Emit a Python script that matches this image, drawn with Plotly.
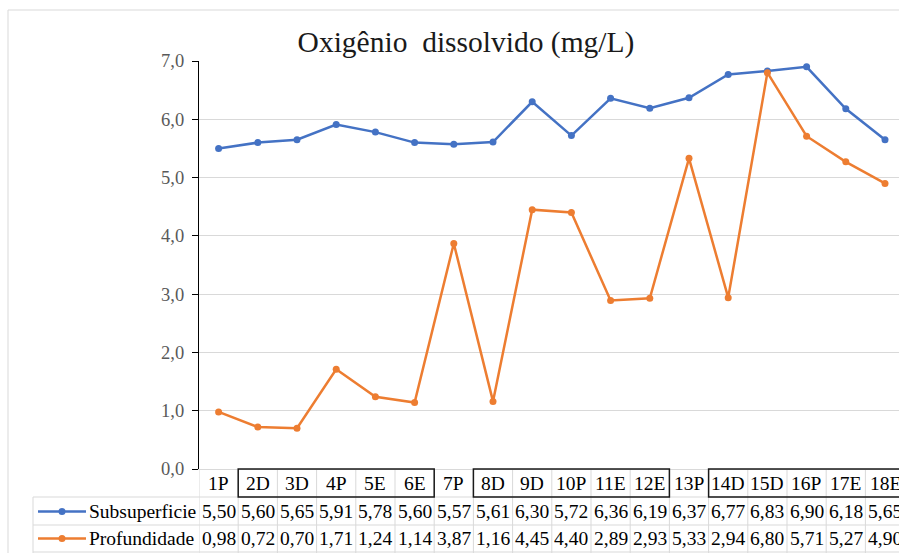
import plotly.graph_objects as go

categories = ["1P", "2D", "3D", "4P", "5E", "6E", "7P", "8D", "9D", "10P",
              "11E", "12E", "13P", "14D", "15D", "16P", "17E", "18E"]
subsuperficie = [5.50, 5.60, 5.65, 5.91, 5.78, 5.60, 5.57, 5.61, 6.30, 5.72,
                 6.36, 6.19, 6.37, 6.77, 6.83, 6.90, 6.18, 5.65]
profundidade = [0.98, 0.72, 0.70, 1.71, 1.24, 1.14, 3.87, 1.16, 4.45, 4.40,
                2.89, 2.93, 5.33, 2.94, 6.80, 5.71, 5.27, 4.90]
series_names = ["Subsuperficie", "Profundidade"]
series_colors = ["#4472C4", "#ED7D31"]
y_ticks = [0, 1, 2, 3, 4, 5, 6, 7]
boxed_groups = [(1, 5), (7, 11), (13, 17)]
title_text = "Oxigênio&nbsp; dissolvido (mg/L)"

W, H = 899, 553
L, T = 199, 61
PLOT_BOTTOM = 469
COL_W = 39.2
plot_w = W - L
plot_h = PLOT_BOTTOM - T
FONT = "Liberation Serif, Times New Roman, serif"


def px(xp):
    return (xp - L) / plot_w


def py(yp):
    return (PLOT_BOTTOM - yp) / plot_h


x_idx = list(range(len(categories)))
fig = go.Figure()
for name, vals, col in zip(series_names, [subsuperficie, profundidade], series_colors):
    fig.add_trace(go.Scatter(
        x=x_idx, y=vals, mode="lines+markers", name=name,
        line=dict(color=col, width=2.5),
        marker=dict(color=col, size=7),
        showlegend=False, cliponaxis=False,
    ))

shapes = []
annotations = []
GRID = "#d9d9d9"
row_tops = [469, 497, 525, 552]
n = len(categories)
x_end = -0.5 + plot_w / COL_W

# horizontal table lines
for yy in row_tops[1:]:
    shapes.append(dict(type="line", xref="paper", yref="paper",
                       x0=px(33), x1=px(W + 20), y0=py(yy), y1=py(yy),
                       line=dict(color=GRID, width=1)))
# legend column left border
shapes.append(dict(type="line", xref="paper", yref="paper",
                   x0=px(33), x1=px(33), y0=py(497), y1=py(560),
                   line=dict(color=GRID, width=1)))
# vertical column lines
for k in range(n + 1):
    shapes.append(dict(type="line", xref="x", yref="paper",
                       x0=k - 0.5, x1=k - 0.5, y0=py(469), y1=py(560),
                       line=dict(color=GRID, width=1)))
# black boxes around header groups
for a, b in boxed_groups:
    shapes.append(dict(type="rect", xref="x", yref="paper",
                       x0=a - 0.5, x1=b + 0.5, y0=py(469), y1=py(497),
                       line=dict(color="#1a1a1a", width=1.5)))
# outer chart border
shapes.append(dict(type="rect", xref="paper", yref="paper",
                   x0=px(8), x1=px(W + 30), y0=py(10), y1=py(H + 30),
                   line=dict(color=GRID, width=1), layer="below"))

# header labels
for i, c in enumerate(categories):
    annotations.append(dict(x=i, y=py(483.5), xref="x", yref="paper",
                            text=c, showarrow=False, xanchor="center", yanchor="middle",
                            font=dict(family=FONT, size=19.5, color="#000000")))
# value rows
row_centers = [511.5, 538.5]
for r, vals in enumerate([subsuperficie, profundidade]):
    for i, v in enumerate(vals):
        annotations.append(dict(x=i, y=py(row_centers[r]), xref="x", yref="paper",
                                text=f"{v:.2f}".replace(".", ","), showarrow=False,
                                xanchor="center", yanchor="middle",
                                font=dict(family=FONT, size=19.5, color="#000000")))
    # legend key
    annotations.append(dict(x=px(87), y=py(row_centers[r]), xref="paper", yref="paper",
                            text=series_names[r], showarrow=False,
                            xanchor="left", yanchor="middle",
                            font=dict(family=FONT, size=19.5, color="#000000")))
    shapes.append(dict(type="line", xref="paper", yref="paper",
                       x0=px(38), x1=px(86), y0=py(row_centers[r]), y1=py(row_centers[r]),
                       line=dict(color=series_colors[r], width=2.5)))
    shapes.append(dict(type="circle", xref="paper", yref="paper",
                       x0=px(58.5), x1=px(65.5),
                       y0=py(row_centers[r] + 3.5), y1=py(row_centers[r] - 3.5),
                       fillcolor=series_colors[r], line=dict(width=0)))

fig.update_layout(
    width=W, height=H,
    margin=dict(l=L, r=0, t=T, b=H - PLOT_BOTTOM, pad=0),
    paper_bgcolor="white", plot_bgcolor="white",
    separators=",.",
    title=dict(text=title_text, xref="container", yref="container",
               x=466 / W, y=1 - 42 / H, xanchor="center", yanchor="middle",
               font=dict(family=FONT, size=29.5, color="#1a1a1a")),
    xaxis=dict(range=[-0.5, x_end], showgrid=False, zeroline=False,
               showticklabels=False, ticks="", showline=True,
               linecolor=GRID, linewidth=1, fixedrange=True),
    yaxis=dict(range=[0, 7], tickvals=y_ticks, tickformat=".1f",
               showgrid=True, gridcolor=GRID, gridwidth=1, zeroline=False,
               showline=True, linecolor="#000000", linewidth=1.3,
               ticks="outside", ticklen=6, tickcolor="#000000", tickwidth=1.3,
               tickfont=dict(family=FONT, size=18.5, color="#595959"),
               ticklabelstandoff=4),
    shapes=shapes, annotations=annotations,
)

fig.write_html(
    "out.html",
    config={"displayModeBar": False},
    post_script="document.body.style.margin='0';document.body.style.overflow='hidden';",
)
